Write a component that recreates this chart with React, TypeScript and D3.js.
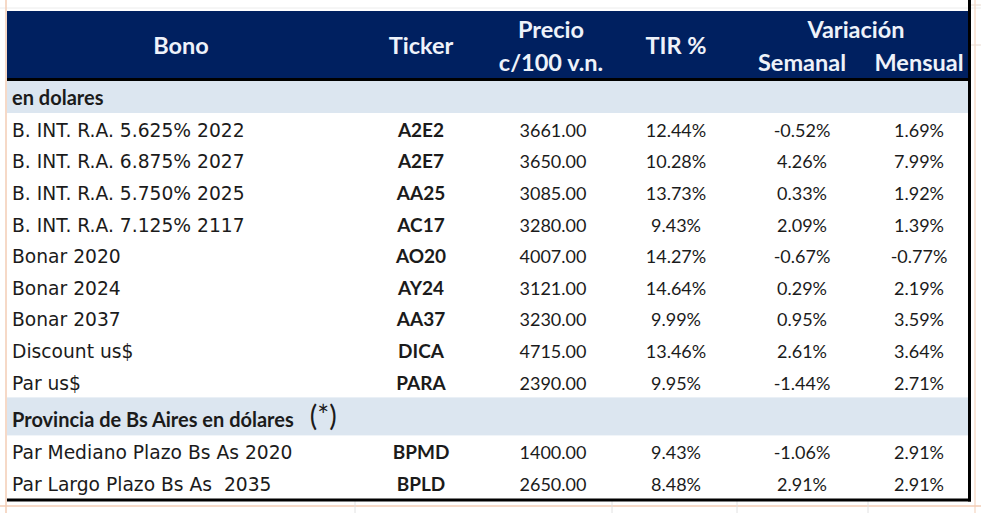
import React from "react";
import * as d3 from "d3";

const headers = ["Bono", "Ticker", "Precio", "c/100 v.n.", "TIR %", "Variación", "Semanal", "Mensual"];
const section1 = "en dolares";
const names1 = [
  "B. INT. R.A. 5.625% 2022",
  "B. INT. R.A. 6.875% 2027",
  "B. INT. R.A. 5.750% 2025",
  "B. INT. R.A. 7.125% 2117",
  "Bonar 2020",
  "Bonar 2024",
  "Bonar 2037",
  "Discount us$",
  "Par us$",
];
const tickers1 = ["A2E2", "A2E7", "AA25", "AC17", "AO20", "AY24", "AA37", "DICA", "PARA"];
const precio1 = [3661.0, 3650.0, 3085.0, 3280.0, 4007.0, 3121.0, 3230.0, 4715.0, 2390.0];
const tir1 = [12.44, 10.28, 13.73, 9.43, 14.27, 14.64, 9.99, 13.46, 9.95];
const semanal1 = [-0.52, 4.26, 0.33, 2.09, -0.67, 0.29, 0.95, 2.61, -1.44];
const mensual1 = [1.69, 7.99, 1.92, 1.39, -0.77, 2.19, 3.59, 3.64, 2.71];

const section2 = "Provincia de Bs Aires en dólares";
const names2 = ["Par Mediano Plazo Bs As 2020", "Par Largo Plazo Bs As  2035"];
const tickers2 = ["BPMD", "BPLD"];
const precio2 = [1400.0, 2650.0];
const tir2 = [9.43, 8.48];
const semanal2 = [-1.06, 2.91];
const mensual2 = [2.91, 2.91];

type Row =
  | { kind: "section"; label: string; star?: boolean }
  | { kind: "data"; name: string; ticker: string; precio: number; tir: number; sem: number; men: number };

const rows: Row[] = [
  { kind: "section", label: section1 },
  ...names1.map((n, i) => ({ kind: "data" as const, name: n, ticker: tickers1[i], precio: precio1[i], tir: tir1[i], sem: semanal1[i], men: mensual1[i] })),
  { kind: "section", label: section2, star: true },
  ...names2.map((n, i) => ({ kind: "data" as const, name: n, ticker: tickers2[i], precio: precio2[i], tir: tir2[i], sem: semanal2[i], men: mensual2[i] })),
];

const W = 981;
const H = 513;
const FONT = "Lato, 'Open Sans', sans-serif";
const NAME_FONT = "'DejaVu Sans', Verdana, sans-serif";

export default function App() {
  const left = 7;
  const right = 968;
  const headerTop = 11;
  const headerBottom = 78;

  const heights = rows.map((r, i) => (r.kind === "section" ? (i === 0 ? 32 : 38) : i > 11 ? 32 : 31.6));
  const starts: number[] = [];
  let acc = headerBottom + 3;
  heights.forEach((h) => {
    starts.push(acc);
    acc += h;
  });
  const tableBottom = acc + 1;

  const fmtP = d3.format(".2f");
  const fmtPct = (v: number) => d3.format(".2f")(v).replace("−", "-") + "%";

  const col = { bono: 12, bonoHead: 181, ticker: 421, precio: 553, tir: 676, sem: 802, men: 919, varHead: 856 };
  const textColor = "#1b1b1b";
  const headColor = "#eef2fa";

  return (
    <svg width={W} height={H} style={{ position: "absolute", left: 0, top: 0, background: "#fff" }}>
      {/* spreadsheet gridlines */}
      <line x1={0} x2={W} y1={8} y2={8} stroke="#ececec" strokeWidth={1} />
      <line x1={6} x2={6} y1={0} y2={H} stroke="#f3cdb4" strokeWidth={1.5} />
      <line x1={0} x2={W} y1={506} y2={506} stroke="#f3cdb4" strokeWidth={1.5} />
      <line x1={975} x2={975} y1={0} y2={H} stroke="#f3cdb4" strokeWidth={1} />
      <line x1={971} x2={W} y1={45} y2={45} stroke="#eadbd0" strokeWidth={1} />
      <line x1={971} x2={W} y1={5} y2={5} stroke="#eadbd0" strokeWidth={1} />
      {[355, 612, 737, 868].map((x) => (
        <line key={x} x1={x} x2={x} y1={501} y2={H} stroke="#e2e2e2" strokeWidth={1} />
      ))}

      {/* header */}
      <rect x={left} y={headerTop} width={right - left} height={headerBottom - headerTop} fill="#002060" />
      <line x1={left} x2={right + 3} y1={headerBottom + 1.5} y2={headerBottom + 1.5} stroke="#000" strokeWidth={3} />
      <g fontFamily={FONT} fontWeight={700} fontSize={23.5} fill={headColor} textAnchor="middle">
        <text x={col.bonoHead} y={54}>{headers[0]}</text>
        <text x={col.ticker} y={54}>{headers[1]}</text>
        <text x={col.precio - 2} y={38}>{headers[2]}</text>
        <text x={col.precio - 2} y={71}>{headers[3]}</text>
        <text x={col.tir} y={54}>{headers[4]}</text>
        <text x={col.varHead} y={38}>{headers[5]}</text>
        <text x={col.sem} y={71}>{headers[6]}</text>
        <text x={col.men} y={71}>{headers[7]}</text>
      </g>

      {/* rows */}
      {rows.map((r, i) => {
        const y0 = starts[i];
        const h = heights[i];
        if (r.kind === "section") {
          const by = y0 + h - 8;
          return (
            <g key={i}>
              <rect x={left} y={y0} width={right - left} height={h} fill="#dce6f0" />
              <text x={col.bono} y={by} fontFamily={FONT} fontWeight={700} fontSize={20} fill={textColor}>
                {r.label}
                {r.star ? <tspan dx={16} fontSize={28} fontWeight={400} dy={-1}>(*)</tspan> : null}
              </text>
            </g>
          );
        }
        const cy = y0 + h / 2 + 8;
        return (
          <g key={i} fontFamily={FONT} fontSize={18} fill={textColor}>
            <text x={col.bono} y={cy} fontFamily={NAME_FONT} fontSize={18.7} style={{ whiteSpace: "pre" }}>{r.name}</text>
            <text x={col.ticker} y={cy} textAnchor="middle" fontWeight={700} fontSize={19}>{r.ticker}</text>
            <text x={col.precio} y={cy} textAnchor="middle">{fmtP(r.precio)}</text>
            <text x={col.tir} y={cy} textAnchor="middle">{fmtPct(r.tir)}</text>
            <text x={col.sem} y={cy} textAnchor="middle">{fmtPct(r.sem)}</text>
            <text x={col.men} y={cy} textAnchor="middle">{fmtPct(r.men)}</text>
          </g>
        );
      })}

      {/* borders */}
      <line x1={right + 1.5} x2={right + 1.5} y1={0} y2={tableBottom + 1.5} stroke="#000" strokeWidth={3} />
      <line x1={left} x2={right + 3} y1={tableBottom} y2={tableBottom} stroke="#000" strokeWidth={3} />
    </svg>
  );
}
